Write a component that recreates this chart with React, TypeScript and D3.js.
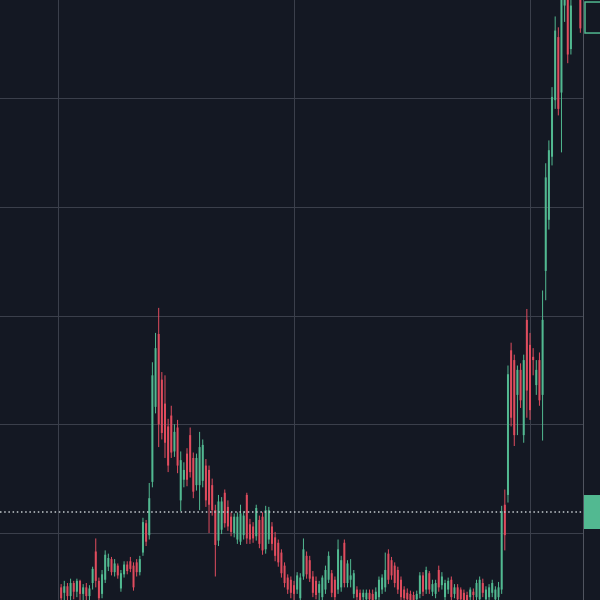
import React from "react";
import * as d3 from "d3";

// ---- data (price units, one entry per candle) ----
const opens = [
  5.0, 4.5, 5.1, 4.2, 5.4, 4.6, 5.6, 4.4, 5.0, 4.2,
  5.4, 8.3, 5.6, 4.4, 5.7, 6.9, 7.6, 6.4, 7.0, 4.9,
  6.2, 7.1, 7.4, 7.0, 7.3, 6.4, 8.2, 10.9, 9.8, 14.7,
  21.6, 28.3, 24.1, 21.9, 19.8, 20.8, 17.5, 19.7, 13.0, 14.9,
  17.3, 19.0, 16.9, 14.4, 14.4, 14.8, 16.2, 15.8, 14.4, 12.1,
  9.3, 10.3, 13.7, 12.4, 11.5, 10.0, 9.4, 9.2, 9.8, 13.5,
  10.8, 10.6, 9.7, 11.2, 11.5, 8.5, 9.4, 10.6, 9.6, 9.1,
  8.2, 7.0, 5.9, 5.7, 5.2, 4.8, 4.0, 6.0, 7.9, 7.5,
  6.0, 5.6, 4.5, 4.1, 4.8, 5.7, 6.3, 5.7, 4.8, 5.0,
  9.1, 5.4, 5.7, 4.4, 4.8, 4.5, 4.1, 3.9, 4.5, 4.4,
  3.9, 4.1, 4.8, 5.0, 8.1, 7.5, 7.0, 6.6, 5.7, 4.8,
  4.5, 4.4, 4.3, 3.9, 4.4, 6.1, 4.8, 6.3, 4.6, 4.4,
  6.6, 5.2, 4.1, 4.8, 5.7, 4.4, 5.0, 4.8, 4.5, 4.3,
  4.1, 4.6, 4.1, 3.9, 5.4, 3.9, 4.1, 4.5, 3.9, 4.1,
  4.8, 12.6, 13.5, 26.8, 25.9, 22.7, 25.0, 19.0, 29.6, 27.3,
  26.2, 23.6, 25.9, 22.7, 34.1, 38.8, 44.6, 49.8, 55.6, 50.5,
  58.5, 61.5, 54.5, 61.0, 63.0, 61.0,
];
const highs = [
  5.3, 5.6, 5.4, 5.8, 5.6, 5.8, 5.7, 5.3, 5.4, 5.2,
  6.9, 9.5, 5.9, 6.6, 8.4, 8.1, 7.8, 7.6, 7.2, 6.6,
  7.4, 7.4, 7.8, 7.3, 7.6, 7.9, 11.4, 11.2, 14.6, 25.7,
  28.4, 30.7, 24.8, 24.5, 20.5, 21.7, 20.0, 20.4, 17.5, 16.5,
  17.8, 19.7, 17.4, 17.3, 19.3, 18.6, 16.8, 16.2, 15.0, 12.6,
  13.5, 13.3, 14.0, 13.0, 11.9, 11.8, 11.9, 12.6, 12.0, 13.7,
  11.3, 11.0, 12.6, 11.6, 11.9, 12.5, 12.4, 11.0, 10.1, 9.4,
  8.5, 7.3, 6.2, 6.0, 5.6, 6.4, 6.3, 9.5, 8.3, 7.9,
  6.5, 6.0, 5.6, 6.1, 7.0, 8.3, 6.6, 6.0, 9.4, 7.9,
  9.4, 7.5, 7.6, 6.6, 5.1, 4.8, 4.8, 4.8, 4.8, 4.8,
  5.0, 6.0, 6.2, 8.2, 8.5, 7.8, 7.3, 6.9, 6.0, 5.1,
  4.9, 4.7, 4.6, 4.7, 6.4, 6.4, 6.9, 6.5, 5.7, 5.7,
  7.0, 6.4, 5.7, 5.9, 6.0, 5.3, 5.3, 5.0, 4.8, 4.6,
  5.0, 4.9, 5.7, 6.0, 5.8, 5.1, 5.3, 5.7, 5.1, 5.5,
  12.5, 14.0, 25.4, 27.5, 26.4, 25.4, 25.6, 26.4, 30.6, 28.4,
  27.0, 25.9, 26.6, 32.3, 44.0, 46.1, 51.0, 57.5, 56.5, 62.0,
  64.5, 63.0, 61.0, 64.0, 65.0, 62.0,
];
const lows = [
  3.2, 3.6, 3.4, 3.7, 3.9, 4.1, 3.5, 3.3, 3.2, 3.4,
  4.8, 5.0, 3.5, 4.0, 5.4, 6.5, 6.1, 6.0, 5.8, 4.6,
  5.9, 6.2, 6.4, 4.7, 6.0, 6.1, 7.9, 8.8, 9.4, 14.2,
  21.0, 17.9, 18.6, 16.9, 15.6, 16.9, 17.0, 15.5, 12.0, 14.2,
  14.3, 15.1, 13.2, 13.9, 12.1, 14.2, 12.4, 10.0, 11.6, 6.0,
  8.8, 9.9, 10.5, 10.2, 9.7, 9.6, 9.0, 8.9, 9.4, 9.0,
  9.0, 9.1, 9.3, 8.6, 8.0, 8.1, 9.0, 8.4, 7.4, 6.9,
  5.9, 5.0, 4.4, 4.0, 3.8, 4.4, 3.6, 5.7, 5.8, 5.5,
  4.1, 3.9, 3.8, 3.7, 4.4, 5.4, 4.1, 3.7, 4.4, 4.6,
  5.0, 5.0, 5.0, 4.0, 3.6, 3.4, 3.5, 3.4, 3.3, 3.3,
  3.5, 3.7, 4.4, 4.6, 5.3, 5.7, 5.0, 4.4, 3.7, 3.6,
  3.4, 3.3, 3.3, 3.5, 4.0, 4.2, 4.4, 4.4, 4.2, 4.0,
  4.6, 4.8, 3.8, 4.4, 3.7, 4.0, 3.5, 3.4, 3.3, 3.2,
  3.7, 3.8, 3.8, 3.6, 4.1, 3.5, 3.8, 4.1, 3.5, 3.8,
  4.4, 8.4, 12.8, 19.8, 18.0, 19.0, 21.5, 18.3, 20.6, 20.4,
  24.5, 22.7, 21.7, 18.5, 31.4, 37.9, 43.8, 49.0, 48.4, 45.0,
  57.0, 53.2, 54.0, 59.8, 60.5, 56.0,
];
const closes = [
  4.0, 5.1, 4.2, 5.4, 4.6, 5.6, 4.4, 5.0, 4.2, 4.9,
  6.7, 5.6, 4.0, 6.2, 8.0, 7.7, 6.4, 7.2, 6.1, 6.3,
  7.1, 6.5, 6.7, 5.0, 6.4, 7.6, 11.0, 9.2, 13.2, 24.5,
  27.0, 20.0, 19.2, 18.3, 16.2, 17.4, 19.3, 16.2, 16.7, 15.8,
  14.9, 15.6, 13.8, 16.9, 17.9, 18.1, 13.0, 12.6, 12.1, 8.9,
  12.9, 12.9, 10.9, 10.6, 10.1, 11.5, 11.5, 11.8, 11.6, 9.5,
  9.4, 9.5, 12.3, 9.0, 8.4, 12.1, 12.1, 9.0, 7.9, 7.3,
  6.3, 5.4, 4.8, 4.5, 4.4, 6.1, 5.9, 8.5, 6.2, 5.8,
  4.5, 4.3, 5.3, 5.9, 6.6, 7.9, 4.5, 4.1, 8.5, 7.5,
  5.4, 7.2, 6.1, 6.3, 4.1, 3.8, 4.5, 4.5, 3.9, 3.8,
  4.6, 5.7, 5.9, 6.6, 5.7, 6.1, 5.4, 4.8, 4.1, 4.0,
  3.9, 3.8, 3.8, 4.4, 6.1, 4.6, 6.6, 4.8, 5.3, 5.4,
  5.0, 6.0, 5.4, 5.6, 4.1, 5.0, 3.9, 3.9, 3.8, 3.7,
  4.8, 4.3, 5.4, 5.7, 4.5, 4.8, 5.0, 5.4, 4.8, 5.0,
  12.0, 9.8, 24.6, 20.6, 19.0, 25.0, 22.2, 25.9, 23.1, 21.3,
  25.9, 25.0, 22.2, 29.6, 42.7, 45.2, 50.1, 56.2, 49.0, 60.5,
  63.0, 54.0, 58.5, 63.0, 64.0, 56.4,
];

// price grid levels and time grid (candle index) positions
const priceGrid = [10, 20, 30, 40, 50, 60];
const timeGrid = [0, 75, 150, 225];
// horizontal reference line price and last price label
const refLinePrice = 11.93;
const topLabelPrice = 57.4;

const W = 600;
const H = 600;
const PLOT_RIGHT = 583;

const BG = "#141823";
const GRID = "#3b3f4b";
const AXIS = "#50545f";
const UP = "#52b991";
const DOWN = "#e04c5e";

export default function App() {
  const x = d3.scaleLinear().domain([0, 150]).range([58, 530]);
  const y = d3.scaleLinear().domain([10, 50]).range([533, 98]);

  const candles = opens.map((o, i) => ({
    i: i + 1,
    o,
    h: highs[i],
    l: lows[i],
    c: closes[i],
  }));

  const bodyW = 2;

  return (
    <svg
      width={W}
      height={H}
      style={{ position: "fixed", left: 0, top: 0, display: "block", background: BG }}
    >
      <defs>
        <clipPath id="plot">
          <rect x={0} y={0} width={PLOT_RIGHT} height={H} />
        </clipPath>
      </defs>
      <rect x={0} y={0} width={W} height={H} fill={BG} />
      <g clipPath="url(#plot)">
        {priceGrid.map((p) => (
          <line
            key={"h" + p}
            x1={0}
            x2={PLOT_RIGHT}
            y1={Math.round(y(p)) + 0.5}
            y2={Math.round(y(p)) + 0.5}
            stroke={GRID}
            strokeWidth={1}
          />
        ))}
        {timeGrid.map((t) => (
          <line
            key={"v" + t}
            x1={Math.round(x(t)) + 0.5}
            x2={Math.round(x(t)) + 0.5}
            y1={0}
            y2={H}
            stroke={GRID}
            strokeWidth={1}
          />
        ))}
        {candles.map((d) => {
          const cx = x(d.i);
          const up = d.c >= d.o;
          const col = up ? UP : DOWN;
          const top = y(Math.max(d.o, d.c));
          const bot = y(Math.min(d.o, d.c));
          return (
            <g key={d.i}>
              <line x1={cx} x2={cx} y1={y(d.h)} y2={y(d.l)} stroke={col} strokeWidth={1} />
              <rect
                x={cx - bodyW / 2}
                y={top}
                width={bodyW}
                height={Math.max(1, bot - top)}
                fill={col}
              />
            </g>
          );
        })}
        <line
          x1={0}
          x2={PLOT_RIGHT - 1}
          y1={y(refLinePrice)}
          y2={y(refLinePrice)}
          stroke="#c5ccd0"
          strokeWidth={1.5}
          strokeDasharray="1.5 2.7"
        />
      </g>
      <line x1={PLOT_RIGHT + 0.5} x2={PLOT_RIGHT + 0.5} y1={0} y2={H} stroke={AXIS} strokeWidth={1} />
      <rect x={PLOT_RIGHT + 1} y={y(refLinePrice) - 17} width={W - PLOT_RIGHT} height={34} fill={UP} />
      <rect
        x={PLOT_RIGHT + 2}
        y={y(topLabelPrice) - 15.5}
        width={W - PLOT_RIGHT}
        height={31}
        fill={BG}
        stroke={UP}
        strokeWidth={1.5}
      />
    </svg>
  );
}
